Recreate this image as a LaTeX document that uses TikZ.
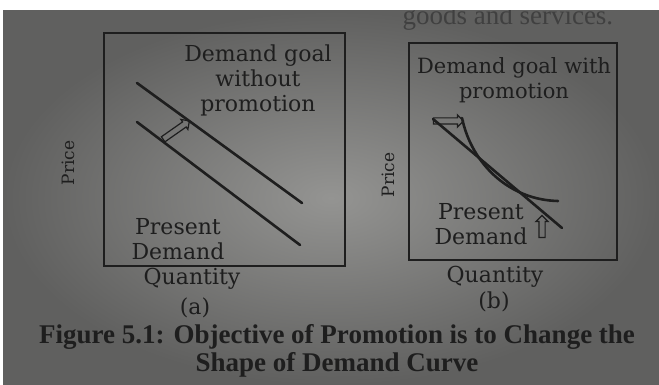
\documentclass[tikz,border=0pt]{standalone}
\usepackage{fontspec}
\setmainfont{DejaVu Serif}
\newfontfamily\capfont{Liberation Serif}
\usepackage{xcolor}
\usetikzlibrary{shapes.arrows}

\definecolor{paperhi}{RGB}{148,148,146}
\definecolor{paperlo}{RGB}{96,96,95}
\definecolor{ink}{RGB}{30,30,30}

\begin{document}
\begin{tikzpicture}[x=1pt, y=-1pt,
    lbl/.style={text=ink, font=\fontsize{22}{25}\selectfont, align=center, inner sep=0pt},
    axlbl/.style={text=ink, font=\fontsize{17}{20}\selectfont, rotate=90, inner sep=0pt},
    panel/.style={draw=ink, line width=1.8pt},
    curve/.style={draw=ink, line width=2.6pt, line cap=round},
    hollow/.style={single arrow, draw=ink, line width=1.2pt, inner sep=2.5pt,
        minimum width=12pt, single arrow head extend=3pt}]
    % Page background
    \useasboundingbox (0,0) rectangle (659,385);
    \fill[white] (0,0) rectangle (659,385);
    \shade[inner color=paperhi, outer color=paperlo] (3,11) rectangle (659,385);
    \clip (3,11) rectangle (659,385);
    \node[text=ink!85, font=\capfont\fontsize{27}{30}\selectfont, anchor=base west] (topline) at (399,25) {goods and services.};

    % Panel (a)
    \draw[panel] (104,33) rectangle (345,266);
    \draw[curve] (137,83) -- (302,203);
    \draw[curve] (137,122) -- (300,245);
    \node[hollow, rotate=35, minimum height=32pt] (shiftA) at (175,131) {};
    \node[lbl] (goalA) at (258,80) {Demand goal\\without\\promotion};
    \node[lbl] (presA) at (178,239) {Present\\Demand};
    \node[lbl] (qtyA) at (192,279) {Quantity};
    \node[lbl] (capA) at (195,308) {(a)};
    \node[axlbl] (priceA) at (68,163) {Price};

    % Panel (b)
    \draw[panel] (409,43) rectangle (617,260);
    \draw[curve] (433,119) -- (562,228);
    \draw[curve] (462,118) .. controls (472,165) and (510,200) .. (558,201);
    \node[hollow, minimum height=30pt] (shiftB) at (447,121) {};
    \node[hollow, rotate=90, minimum height=22pt] (liftB) at (542,228) {};
    \node[lbl, font=\fontsize{21}{25}\selectfont] (goalB) at (514,80) {Demand goal with\\promotion};
    \node[lbl] (presB) at (481,224) {Present\\Demand};
    \node[lbl] (qtyB) at (495,277) {Quantity};
    \node[lbl] (capB) at (494,302) {(b)};
    \node[axlbl] (priceB) at (388,175) {Price};

    % Caption
    \node[text=ink, font=\capfont\bfseries\fontsize{27}{28}\selectfont, align=center, inner sep=0pt]
        (caption) at (337,351) {Figure 5.1: Objective of Promotion is to Change the\\Shape of Demand Curve};
\end{tikzpicture}
\end{document}
